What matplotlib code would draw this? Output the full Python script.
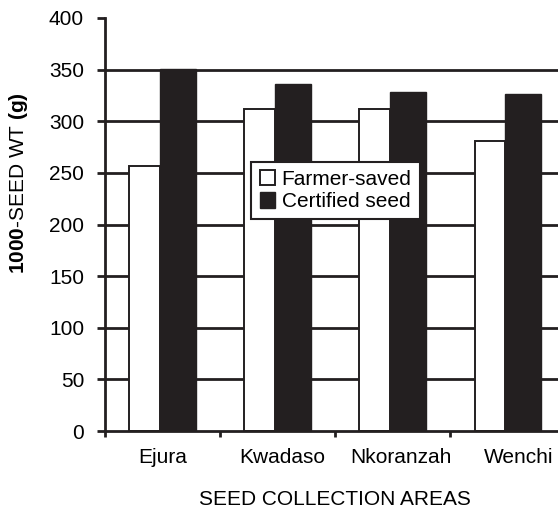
import matplotlib.pyplot as plt
import numpy as np

plt.rcParams['font.family'] = ['Liberation Sans', 'DejaVu Sans']
plt.rcParams['mathtext.fontset'] = 'custom'
plt.rcParams['mathtext.rm'] = 'Liberation Sans'
plt.rcParams['mathtext.bf'] = 'Liberation Sans:bold'

areas = ['Ejura', 'Kwadaso', 'Nkoranzah', 'Wenchi']
farmer_saved = [257, 312, 312, 281]
certified = [351, 336.5, 328, 326]

dark = '#231f20'
fs = 15

fig = plt.figure(figsize=(5.58, 5.12), dpi=100)
ax = fig.add_axes([0.188, 0.158, 0.8255, 0.807])

x = np.arange(len(areas))
# gridlines (no line at the top value)
for yv in range(50, 400, 50):
    ax.axhline(yv, color=dark, lw=2.0, zorder=1)

ax.bar(x - 0.025, farmer_saved, width=0.265, align='edge', color='white',
       edgecolor=dark, linewidth=1.4, zorder=2, label='Farmer-saved')
ax.bar(x - 0.025, certified, width=0.315, align='edge', color=dark,
       edgecolor=dark, linewidth=1.0, zorder=2, label='Certified seed')
# shift white bars so they sit left of the black ones
for p in ax.patches[:len(areas)]:
    p.set_x(p.get_x() - p.get_width())

ax.set_xlim(-0.5, len(areas) - 0.5)
ax.set_ylim(0, 400)
ax.set_yticks(range(0, 401, 50))
ax.set_xticks(x + np.array([0.0, 0.04, 0.07, 0.09]))
ax.set_xticklabels(areas, fontsize=fs)
ax.set_xticks(np.arange(-0.5, len(areas) - 0.5, 1.0), minor=True)
ax.tick_params(axis='x', which='major', length=0, pad=12)
ax.tick_params(axis='x', which='minor', length=4.5, width=2, color=dark)
ax.tick_params(axis='y', length=6, width=2, color=dark, labelsize=fs, pad=9)

for s in ['top', 'right']:
    ax.spines[s].set_visible(False)
for s in ['left', 'bottom']:
    ax.spines[s].set_color(dark)
    ax.spines[s].set_linewidth(2)
    ax.spines[s].set_zorder(3)

ax.set_xlabel('SEED COLLECTION AREAS', fontsize=fs, labelpad=17)
ax.set_ylabel(r'$\mathbf{1000}$-SEED WT $\mathbf{(g)}$', fontsize=fs)
ax.yaxis.set_label_coords(-0.163, 0.60)

leg = ax.legend(loc='upper left', bbox_to_anchor=(0.318, 0.652), fontsize=fs,
                fancybox=False, framealpha=1, edgecolor=dark,
                handlelength=0.75, handleheight=0.75, handletextpad=0.3,
                borderpad=0.4, labelspacing=0.15, borderaxespad=0)
leg.get_frame().set_linewidth(1.5)
leg.set_zorder(5)

plt.savefig('out.png', dpi=100)
